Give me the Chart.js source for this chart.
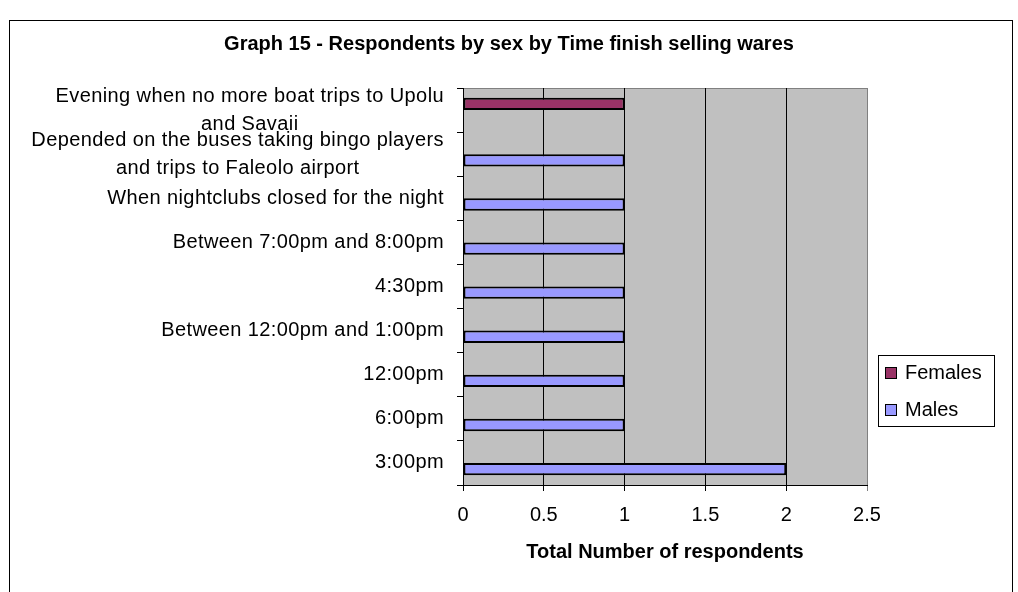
<!DOCTYPE html>
<html>
<head>
<meta charset="utf-8">
<title>Graph 15</title>
<script src="https://cdn.jsdelivr.net/npm/chart.js@4.4.1/dist/chart.umd.min.js"></script>
<style>
  html, body { margin: 0; padding: 0; background: #fff; }
  #wrap { position: relative; width: 1018px; height: 592px; }
</style>
</head>
<body>
<div id="wrap"><canvas id="chart" width="1018" height="592"></canvas></div>
<script>
// --- data (top to bottom) ---
const categories = [
  ["Evening when no more boat trips to Upolu", "and Savaii"],
  ["Depended on the buses taking bingo players", "and trips to Faleolo airport"],
  "When nightclubs closed for the night",
  "Between 7:00pm and 8:00pm",
  "4:30pm",
  "Between 12:00pm and 1:00pm",
  "12:00pm",
  "6:00pm",
  "3:00pm"
];
const females = [1, null, null, null, null, null, null, null, null];
const males = [null, 1, 1, 1, 1, 1, 1, 1, 2];
const xTicks = [0, 0.5, 1, 1.5, 2, 2.5];

const FONT = '"Liberation Sans", Arial, sans-serif';

// plot background, outer frame
const frame = {
  id: 'frame',
  beforeDraw(chart) {
    const { ctx, chartArea: a } = chart;
    ctx.save();
    ctx.fillStyle = '#fff';
    ctx.fillRect(0, 0, chart.width, chart.height);
    ctx.strokeStyle = '#000';
    ctx.lineWidth = 1;
    ctx.strokeRect(9.5, 20.5, 1003, 600);
    ctx.fillStyle = '#C0C0C0';
    ctx.fillRect(a.left, a.top, a.right - a.left, a.bottom - a.top);
    ctx.strokeStyle = '#808080';
    ctx.beginPath();
    ctx.moveTo(a.left, a.top + 0.5);
    ctx.lineTo(a.right, a.top + 0.5);
    ctx.stroke();
    ctx.restore();
  }
};

// category labels: right-aligned block, wrapped lines centred inside it (excel style)
const catLabels = {
  id: 'catLabels',
  afterDraw(chart) {
    const ctx = chart.ctx;
    const s = chart.scales.y;
    const right = s.right - 19;
    ctx.save();
    ctx.font = '20px ' + FONT;
    ctx.fillStyle = '#000';
    ctx.textBaseline = 'middle';
    ctx.textAlign = 'center';
    ctx.letterSpacing = '0.4px';
    chart.data.labels.forEach((lab, i) => {
      const lines = [].concat(lab);
      const yc = s.getPixelForValue(i);
      const block = Math.max(...lines.map(l => ctx.measureText(l).width));
      const cx = right - block / 2;
      lines.forEach((l, j) => {
        ctx.fillText(l, cx, yc + (j - (lines.length - 1) / 2) * 28);
      });
    });
    ctx.restore();
  }
};

// excel-like boxed legend on the right
const boxLegend = {
  id: 'boxLegend',
  afterDraw(chart) {
    const ctx = chart.ctx;
    const x = 878, y = 355, w = 116, h = 71;
    ctx.save();
    ctx.strokeStyle = '#000';
    ctx.lineWidth = 1;
    ctx.strokeRect(x + 0.5, y + 0.5, w, h);
    ctx.font = '20px ' + FONT;
    ctx.textBaseline = 'middle';
    chart.data.datasets.forEach((ds, i) => {
      const sy = y + 12 + i * 37;
      ctx.fillStyle = ds.backgroundColor;
      ctx.fillRect(x + 7, sy, 12, 12);
      ctx.strokeRect(x + 7.5, sy + 0.5, 11, 11);
      ctx.fillStyle = '#000';
      ctx.fillText(ds.label, x + 27, sy + 6);
    });
    ctx.restore();
  }
};

new Chart(document.getElementById('chart'), {
  type: 'bar',
  data: {
    labels: categories,
    datasets: [
      { label: 'Females', data: females, backgroundColor: '#993366', borderColor: '#000', borderWidth: 2, borderSkipped: false },
      { label: 'Males', data: males, backgroundColor: '#9999FF', borderColor: '#000', borderWidth: 2, borderSkipped: false }
    ]
  },
  options: {
    indexAxis: 'y',
    responsive: false,
    animation: false,
    datasets: { bar: { categoryPercentage: 0.56, barPercentage: 1.0 } },
    layout: { padding: 0 },
    plugins: {
      legend: { display: false },
      tooltip: { enabled: false },
      title: {
        display: true,
        text: 'Graph 15 - Respondents by sex by Time finish selling wares',
        color: '#000',
        font: { family: FONT, size: 20, weight: 'bold' },
        padding: { top: 32, bottom: 32 }
      }
    },
    scales: {
      x: {
        min: 0,
        max: 2.5,
        afterBuildTicks: (s) => { s.ticks = xTicks.map(v => ({ value: v })); },
        ticks: { color: '#000', font: { family: FONT, size: 20 }, padding: 12, callback: (v) => String(v) },
        grid: {
          color: (c) => (c.tick && c.tick.value === 2.5 ? '#808080' : '#000'),
          tickLength: 6
        },
        border: { color: '#000' },
        title: {
          display: true,
          text: 'Total Number of respondents',
          color: '#000',
          font: { family: FONT, size: 20, weight: 'bold' },
          padding: { top: 0, bottom: 28 }
        },
        afterFit: (s) => { s.height = 107; }
      },
      y: {
        grid: { drawOnChartArea: false, drawTicks: true, tickLength: 6, color: '#000' },
        border: { color: '#000' },
        ticks: { display: false, autoSkip: false },
        afterFit: (s) => { s.width = 463; }
      },
      pad: {
        axis: 'y',
        position: 'right',
        grid: { display: false },
        border: { display: false },
        ticks: { display: false },
        afterFit: (s) => { s.width = 151; }
      }
    }
  },
  plugins: [frame, catLabels, boxLegend]
});
</script>
</body>
</html>
